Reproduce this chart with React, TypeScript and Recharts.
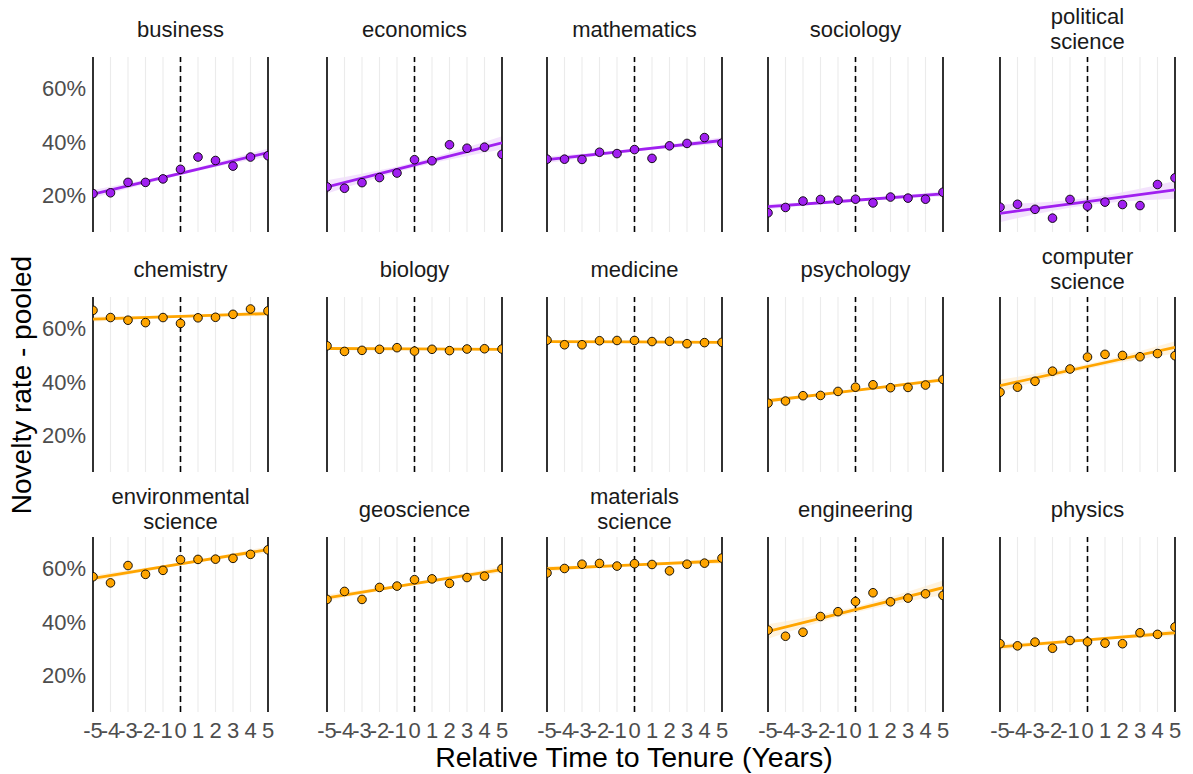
import React from 'react';
import { ComposedChart, XAxis, YAxis, Scatter, Line, Area, ReferenceLine } from 'recharts';

// ---------- data ----------
const xValues = [-5, -4, -3, -2, -1, 0, 1, 2, 3, 4, 5];
const xTicks = [-5, -4, -3, -2, -1, 0, 1, 2, 3, 4, 5];
const yTicks = [20, 40, 60];
const fitXs = [-5, 0, 5];

const fieldNames = [
  'business', 'economics', 'mathematics', 'sociology', 'political\nscience',
  'chemistry', 'biology', 'medicine', 'psychology', 'computer\nscience',
  'environmental\nscience', 'geoscience', 'materials\nscience', 'engineering', 'physics',
];
const fieldGroup = ['purple', 'purple', 'purple', 'purple', 'purple',
  'orange', 'orange', 'orange', 'orange', 'orange',
  'orange', 'orange', 'orange', 'orange', 'orange'];

const businessRates = [20.6, 20.9, 24.8, 24.8, 26.1, 29.7, 34.3, 33.0, 30.9, 34.3, 34.8];
const economicsRates = [23.1, 22.6, 24.7, 26.6, 28.3, 33.3, 32.9, 38.9, 37.6, 38.0, 35.3];
const mathematicsRates = [33.5, 33.5, 33.4, 36.1, 35.6, 37.1, 33.8, 38.5, 39.4, 41.6, 39.5];
const sociologyRates = [13.4, 15.4, 17.8, 18.4, 18.1, 18.5, 17.1, 19.3, 18.9, 18.5, 21.1];
const politicalRates = [15.5, 16.6, 14.7, 11.4, 18.4, 15.9, 17.4, 16.5, 16.1, 24.0, 26.5];
const chemistryRates = [66.8, 64.1, 63.1, 62.2, 64.1, 61.9, 64.0, 64.2, 65.3, 67.3, 66.6];
const biologyRates = [53.5, 51.4, 51.8, 52.2, 52.8, 51.5, 52.2, 51.7, 52.3, 52.4, 52.3];
const medicineRates = [55.6, 53.9, 53.9, 55.4, 55.5, 55.5, 55.1, 55.2, 54.3, 54.7, 54.8];
const psychologyRates = [32.0, 32.8, 34.8, 34.9, 36.4, 38.0, 38.9, 37.8, 37.9, 38.8, 40.9];
const computerRates = [36.1, 38.0, 40.2, 44.0, 44.8, 49.3, 50.3, 49.9, 49.4, 50.6, 49.8];
const environmentalRates = [56.9, 54.6, 61.1, 57.8, 59.3, 63.3, 63.4, 63.5, 63.8, 65.3, 67.0];
const geoscienceRates = [48.4, 51.4, 48.4, 52.9, 53.4, 55.8, 56.1, 54.4, 56.6, 57.1, 60.0];
const materialsRates = [58.3, 60.0, 61.6, 61.9, 60.9, 61.8, 61.5, 59.1, 61.6, 62.0, 63.9];
const engineeringRates = [36.9, 34.6, 36.1, 42.0, 43.8, 47.6, 50.9, 47.5, 48.9, 50.5, 49.9];
const physicsRates = [31.8, 31.0, 32.4, 30.1, 33.0, 32.5, 32.0, 31.8, 35.9, 35.3, 38.1];

// fitted line values at x = -5, 0, 5
const businessFit = [20.4, 28.2, 36.0];
const economicsFit = [23.1, 31.35, 39.6];
const mathematicsFit = [33.3, 36.9, 40.5];
const sociologyFit = [15.7, 18.1, 20.5];
const politicalFit = [13.2, 17.6, 22.0];
const chemistryFit = [63.5, 64.55, 65.6];
const biologyFit = [52.5, 52.35, 52.2];
const medicineFit = [55.1, 54.95, 54.8];
const psychologyFit = [32.9, 36.8, 40.7];
const computerFit = [38.6, 45.75, 52.9];
const environmentalFit = [56.3, 61.7, 67.1];
const geoscienceFit = [49.0, 54.3, 59.6];
const materialsFit = [59.9, 61.35, 62.8];
const engineeringFit = [36.4, 44.6, 52.8];
const physicsFit = [30.6, 33.25, 35.9];

// confidence band half-widths at x = -5, 0, 5
const businessBand = [1.5, 0.6, 1.5];
const economicsBand = [2.5, 1.0, 2.5];
const mathematicsBand = [1.2, 0.5, 1.2];
const sociologyBand = [1.0, 0.4, 1.0];
const politicalBand = [3.3, 1.3, 3.3];
const chemistryBand = [1.0, 0.4, 1.0];
const biologyBand = [0.5, 0.2, 0.5];
const medicineBand = [0.5, 0.2, 0.5];
const psychologyBand = [0.8, 0.3, 0.8];
const computerBand = [2.3, 0.9, 2.3];
const environmentalBand = [1.2, 0.5, 1.2];
const geoscienceBand = [1.2, 0.5, 1.2];
const materialsBand = [1.0, 0.4, 1.0];
const engineeringBand = [2.7, 1.1, 2.7];
const physicsBand = [1.2, 0.5, 1.2];

const allRates = [businessRates, economicsRates, mathematicsRates, sociologyRates, politicalRates,
  chemistryRates, biologyRates, medicineRates, psychologyRates, computerRates,
  environmentalRates, geoscienceRates, materialsRates, engineeringRates, physicsRates];
const allFits = [businessFit, economicsFit, mathematicsFit, sociologyFit, politicalFit,
  chemistryFit, biologyFit, medicineFit, psychologyFit, computerFit,
  environmentalFit, geoscienceFit, materialsFit, engineeringFit, physicsFit];
const allBands = [businessBand, economicsBand, mathematicsBand, sociologyBand, politicalBand,
  chemistryBand, biologyBand, medicineBand, psychologyBand, computerBand,
  environmentalBand, geoscienceBand, materialsBand, engineeringBand, physicsBand];

// ---------- layout ----------
const colLefts = [93, 327, 547, 768, 1000];
const rowTops = [57, 297, 537];
const PANEL_W = 175;
const PANEL_H = 175;
const Y_AXIS_W = 62;
const X_AXIS_H = 50;
const Y_DOMAIN: [number, number] = [6.2, 71.8];
const COLORS: Record<string, string> = { purple: '#A020F0', orange: '#FFA500' };
const FONT = '"Liberation Sans", Arial, Helvetica, sans-serif';

function Dot(props: any) {
  const { cx, cy, fill } = props;
  if (cx == null || cy == null) return null;
  return <circle cx={cx} cy={cy} r={4.3} fill={fill} stroke="#000" strokeWidth={0.9} />;
}

function Panel({ idx }: { idx: number }) {
  const row = Math.floor(idx / 5);
  const col = idx % 5;
  const showY = col === 0;
  const showX = row === 2;
  const pad = showX ? 20 : 3;
  const color = COLORS[fieldGroup[idx]];
  const points = xValues.map((x, i) => ({ x, y: allRates[idx][i] }));
  const fitData = fitXs.map((x, i) => ({
    x,
    fit: allFits[idx][i],
    band: [allFits[idx][i] - allBands[idx][i], allFits[idx][i] + allBands[idx][i]],
  }));
  const width = PANEL_W + 2 * pad + (showY ? Y_AXIS_W : 0);
  const height = PANEL_H + (showX ? X_AXIS_H : 0);
  const left = colLefts[col] - pad - (showY ? Y_AXIS_W : 0);
  const top = rowTops[row];
  const tickStyle = { fontSize: 22, fill: '#4d4d4d', fontFamily: FONT };
  return (
    <div style={{ position: 'absolute', left, top, width, height }}>
      <ComposedChart width={width} height={height} data={fitData}
        margin={{ top: 0, right: pad, bottom: 0, left: pad }}>
        <XAxis dataKey="x" type="number" domain={[-5, 5]} ticks={xTicks} interval={0}
          allowDataOverflow hide={!showX} axisLine={false} tickLine={false}
          tickSize={4} tickMargin={6} tick={tickStyle} height={X_AXIS_H} />
        <YAxis type="number" domain={Y_DOMAIN} ticks={yTicks} allowDataOverflow
          hide={!showY} axisLine={false} tickLine={false} width={Y_AXIS_W}
          tickSize={4} tickMargin={3} tick={tickStyle}
          tickFormatter={(v: number) => `${v}%`} />
        {xTicks.map((t) => (
          <ReferenceLine key={`g${t}`} x={t} stroke="#ebebeb" strokeWidth={1.1} />
        ))}
        <ReferenceLine x={-5} stroke="#000" strokeWidth={1.6} />
        <ReferenceLine x={5} stroke="#000" strokeWidth={1.6} />
        <ReferenceLine x={0} stroke="#000" strokeWidth={1.6} strokeDasharray="6 4" />
        <Area dataKey="band" type="monotone" stroke="none" fill={color} fillOpacity={0.13}
          isAnimationActive={false} />
        <Line dataKey="fit" type="linear" stroke={color} strokeWidth={2.8} dot={false}
          isAnimationActive={false} />
        <Scatter data={points} dataKey="y" fill={color} shape={<Dot />} isAnimationActive={false} />
      </ComposedChart>
    </div>
  );
}

export default function App() {
  return (
    <div style={{ position: 'absolute', left: 0, top: 0, width: 1193, height: 774, background: '#fff', overflow: 'hidden', fontFamily: FONT }}>
      {fieldNames.map((name, idx) => {
        const row = Math.floor(idx / 5);
        const col = idx % 5;
        return (
          <div key={`s${idx}`} style={{
            position: 'absolute', left: colLefts[col], width: PANEL_W, top: rowTops[row] - 53, height: 50,
            display: 'flex', flexDirection: 'column', alignItems: 'center', justifyContent: 'center',
            fontSize: 22, lineHeight: '25px', color: '#1a1a1a', textAlign: 'center',
          }}>
            {name.split('\n').map((l, i) => <div key={i}>{l}</div>)}
          </div>
        );
      })}
      {fieldNames.map((_, idx) => <Panel key={idx} idx={idx} />)}
      <div style={{ position: 'absolute', left: 0, width: 1268, top: 743, height: 28, lineHeight: '28px', fontSize: 28.5, color: '#000', textAlign: 'center' }}>
        Relative Time to Tenure (Years)
      </div>
      <div style={{ position: 'absolute', left: 22 - 200, top: 385 - 15, width: 400, height: 30, lineHeight: '30px', fontSize: 28, color: '#000', textAlign: 'center', transform: 'rotate(-90deg)' }}>
        Novelty rate - pooled
      </div>
    </div>
  );
}
